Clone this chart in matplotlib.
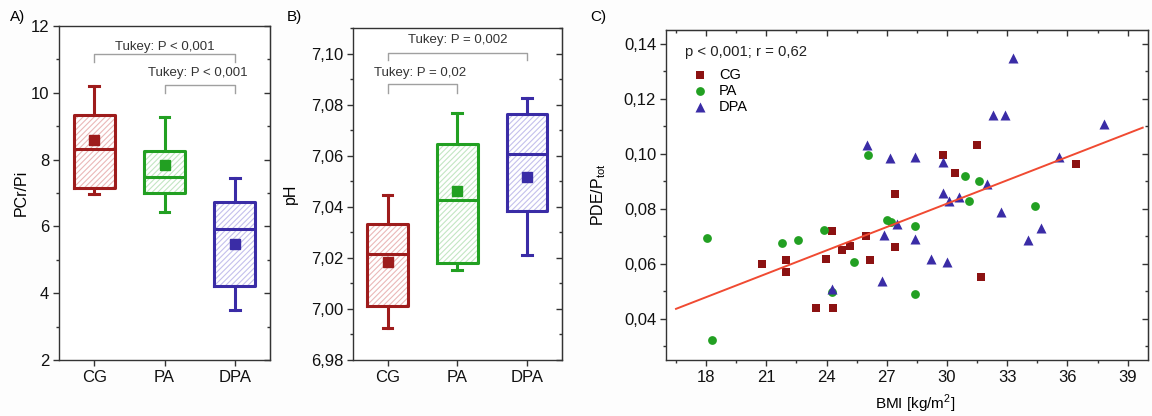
import matplotlib
matplotlib.use("Agg")
import matplotlib.pyplot as plt
from matplotlib.patches import Rectangle
from matplotlib.ticker import MultipleLocator, FuncFormatter, NullFormatter

plt.rcParams['font.family'] = ['Liberation Sans', 'DejaVu Sans']
plt.rcParams['mathtext.fontset'] = 'custom'
plt.rcParams['mathtext.rm'] = 'Liberation Sans'
plt.rcParams['hatch.linewidth'] = 0.8

groups = ['CG', 'PA', 'DPA']
colors = ['#9e1c1c', '#22a022', '#3a2ca6']
hatch_colors = ['#eab8b8', '#c3e6c3', '#c4c0ec']

# A) PCr/Pi
pcr_whislo = [6.97, 6.42, 3.50]
pcr_q1 = [7.16, 6.99, 4.22]
pcr_med = [8.32, 7.49, 5.93]
pcr_q3 = [9.34, 8.27, 6.72]
pcr_whishi = [10.2, 9.27, 7.44]
pcr_mean = [8.59, 7.85, 5.47]

# B) pH
ph_whislo = [6.9924, 7.0152, 7.0211]
ph_q1 = [7.0012, 7.0180, 7.0384]
ph_med = [7.0214, 7.0426, 7.0605]
ph_q3 = [7.0331, 7.0644, 7.0762]
ph_whishi = [7.0445, 7.0768, 7.0825]
ph_mean = [7.0184, 7.0461, 7.0517]

# C) PDE/Ptot vs BMI
cg_bmi = [20.77, 21.96, 21.96, 23.47, 23.97, 24.27, 24.32, 24.77, 25.17, 25.97,
          26.16, 27.39, 27.39, 29.80, 30.38, 31.48, 31.68, 36.41]
cg_pde = [0.0598, 0.0613, 0.0570, 0.0440, 0.0619, 0.0720, 0.0438, 0.0649, 0.0666, 0.0701,
          0.0614, 0.0853, 0.0661, 0.0997, 0.0931, 0.1032, 0.0551, 0.0964]
pa_bmi = [18.06, 18.28, 21.76, 22.58, 23.87, 24.27, 25.37, 26.08, 27.02, 27.20,
          28.39, 28.39, 30.88, 31.11, 31.60, 34.40]
pa_pde = [0.0694, 0.0324, 0.0674, 0.0686, 0.0723, 0.0497, 0.0605, 0.0997, 0.0759, 0.0752,
          0.0738, 0.0489, 0.0919, 0.0827, 0.0902, 0.0811]
dpa_bmi = [24.27, 26.00, 26.78, 26.88, 27.18, 27.49, 28.41, 28.41, 29.19, 29.80,
           29.80, 29.99, 30.12, 30.60, 31.98, 32.31, 32.70, 32.90, 33.30, 34.04,
           34.68, 35.60, 37.82]
dpa_pde = [0.0508, 0.1030, 0.0539, 0.0703, 0.0985, 0.0746, 0.0988, 0.0690, 0.0616, 0.0969,
           0.0856, 0.0607, 0.0827, 0.0844, 0.0890, 0.1141, 0.0788, 0.1142, 0.1347, 0.0687,
           0.0731, 0.0988, 0.1108]
fit_x = [16.5, 39.75]
fit_slope = 0.002834
fit_intercept = -0.00316

# brackets: (x1, x2, y_top, y_leg, text, text_x, text_y)
pcr_brackets = [(1, 3, 11.16, 10.93, 'Tukey: P < 0,001', 2.0, 11.38),
                (2, 3, 10.23, 9.99, 'Tukey: P < 0,001', 2.47, 10.59)]
ph_brackets = [(1, 3, 7.1004, 7.0974, 'Tukey: P = 0,002', 2.0, 7.1052),
               (1, 2, 7.0879, 7.0847, 'Tukey: P = 0,02', 1.47, 7.0924)]

spine_col = '#333333'


def comma(fmt):
    return FuncFormatter(lambda v, p: fmt.format(v).replace('.', ','))


def style_axes(ax):
    for s in ax.spines.values():
        s.set_color(spine_col)
        s.set_linewidth(1.0)
    ax.tick_params(which='both', direction='out', colors=spine_col, labelsize=12,
                   labelcolor='#111111', pad=3)
    ax.tick_params(which='major', length=4, width=1)
    ax.tick_params(which='minor', length=2.5, width=1)


def mirror_y(ax, major, minor):
    sec = ax.secondary_yaxis('right')
    sec.yaxis.set_major_locator(MultipleLocator(major))
    sec.yaxis.set_minor_locator(MultipleLocator(minor))
    sec.yaxis.set_major_formatter(NullFormatter())
    sec.tick_params(which='both', direction='in', colors=spine_col)
    sec.tick_params(which='major', length=4, width=1)
    sec.tick_params(which='minor', length=2.5, width=1)
    sec.spines['right'].set_color(spine_col)
    return sec


def box_panel(ax, whislo, q1, med, q3, whishi, mean, brackets):
    for i in range(3):
        pos = i + 1
        ax.add_patch(Rectangle((pos - 0.29, q1[i]), 0.58, q3[i] - q1[i], facecolor='none',
                               edgecolor=hatch_colors[i], hatch='//////', lw=0, zorder=1))
        st = [dict(med=med[i], q1=q1[i], q3=q3[i], whislo=whislo[i], whishi=whishi[i],
                   mean=mean[i], fliers=[])]
        c = colors[i]
        ax.bxp(st, positions=[pos], widths=0.58, showmeans=True, showfliers=False,
               boxprops=dict(color=c, lw=2.2), whiskerprops=dict(color=c, lw=2.2),
               capprops=dict(color=c, lw=2.2), medianprops=dict(color=c, lw=2.2),
               meanprops=dict(marker='s', markerfacecolor=c, markeredgecolor=c, markersize=6.5),
               capwidths=0.14, manage_ticks=False, zorder=2)
    for x1, x2, yt, yl, txt, tx, ty in brackets:
        ax.plot([x1, x1, x2, x2], [yl, yt, yt, yl], color='#a0a0a0', lw=1.0)
        ax.text(tx, ty, txt, ha='center', va='center', fontsize=9.5, color='#333333')
    ax.set_xlim(0.5, 3.5)
    ax.set_xticks([1, 2, 3])
    ax.set_xticklabels(groups)
    style_axes(ax)


fig = plt.figure(figsize=(11.52, 4.16), dpi=100)
fig.patch.set_facecolor('#fdfdfd')

axA = fig.add_axes([0.0512, 0.1346, 0.1832, 0.8029])
box_panel(axA, pcr_whislo, pcr_q1, pcr_med, pcr_q3, pcr_whishi, pcr_mean, pcr_brackets)
axA.set_ylim(2, 12)
axA.yaxis.set_major_locator(MultipleLocator(2))
axA.yaxis.set_minor_locator(MultipleLocator(1))
axA.set_ylabel('PCr/Pi', fontsize=11.5)
axA.yaxis.set_label_coords(-0.145, 0.5)
mirror_y(axA, 2, 1)

axB = fig.add_axes([0.3062, 0.1346, 0.1816, 0.7981])
box_panel(axB, ph_whislo, ph_q1, ph_med, ph_q3, ph_whishi, ph_mean, ph_brackets)
axB.set_ylim(6.98, 7.11)
axB.yaxis.set_major_locator(MultipleLocator(0.02))
axB.yaxis.set_minor_locator(MultipleLocator(0.01))
axB.yaxis.set_major_formatter(comma('{:.2f}'))
axB.set_ylabel('pH', fontsize=11.5)
axB.yaxis.set_label_coords(-0.26, 0.5)
mirror_y(axB, 0.02, 0.01)

axC = fig.add_axes([0.5781, 0.1346, 0.4182, 0.7933])
axC.scatter(cg_bmi, cg_pde, marker='s', s=36, color='#8c1212', linewidths=0, label='CG', zorder=3)
axC.scatter(pa_bmi, pa_pde, marker='o', s=40, color='#22a022', linewidths=0, label='PA', zorder=3)
axC.scatter(dpa_bmi, dpa_pde, marker='^', s=52, color='#3a2ca6', linewidths=0, label='DPA', zorder=3)
fit_y = [fit_intercept + fit_slope * x for x in fit_x]
axC.plot(fit_x, fit_y, color='#f04a32', lw=1.4, zorder=4)
axC.set_xlim(16, 40)
axC.set_ylim(0.025, 0.145)
axC.xaxis.set_major_locator(MultipleLocator(3))
axC.xaxis.set_minor_locator(MultipleLocator(1.5))
axC.yaxis.set_major_locator(MultipleLocator(0.02))
axC.yaxis.set_minor_locator(MultipleLocator(0.01))
axC.yaxis.set_major_formatter(comma('{:.2f}'))
style_axes(axC)
axC.set_xlabel('BMI [kg/m$^2$]', fontsize=11)
axC.xaxis.set_label_coords(0.518, -0.098)
axC.set_ylabel(r'$\mathregular{PDE/P_{tot}}$', fontsize=11.5)
axC.yaxis.set_label_coords(-0.12, 0.5)
mirror_y(axC, 0.02, 0.01)
secx = axC.secondary_xaxis('top')
secx.xaxis.set_major_locator(MultipleLocator(3))
secx.xaxis.set_minor_locator(MultipleLocator(1.5))
secx.xaxis.set_major_formatter(NullFormatter())
secx.tick_params(which='both', direction='in', colors=spine_col)
secx.tick_params(which='major', length=4, width=1)
secx.tick_params(which='minor', length=2.5, width=1)
secx.spines['top'].set_color(spine_col)
axC.text(0.039, 0.934, 'p < 0,001; r = 0,62', transform=axC.transAxes, va='center',
         fontsize=10.7, color='#222222')
axC.legend(loc='upper left', bbox_to_anchor=(0.056, 0.885), frameon=False, fontsize=10.5,
           handlelength=1.0, handletextpad=0.8, labelspacing=0.15, borderpad=0,
           borderaxespad=0)

fig.text(10 / 1152, 1 - 17.5 / 416, 'A)', va='center', fontsize=11)
fig.text(287 / 1152, 1 - 17.5 / 416, 'B)', va='center', fontsize=11)
fig.text(590 / 1152, 1 - 17 / 416, 'C)', va='center', fontsize=11)

plt.savefig('out.png', dpi=100, facecolor=fig.get_facecolor())
